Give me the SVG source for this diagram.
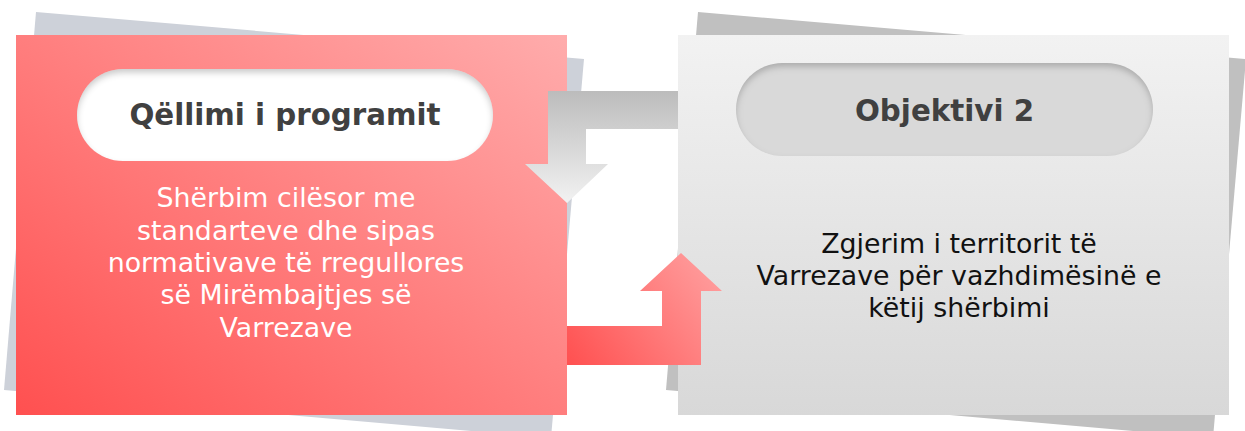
<svg xmlns="http://www.w3.org/2000/svg" width="1245" height="431" viewBox="0 0 1245 431">
<style>
.title{font-family:"DejaVu Sans","Liberation Sans",sans-serif;font-weight:bold;font-size:29.3px;fill:#404040;text-anchor:middle}
.body{font-family:"DejaVu Sans","Liberation Sans",sans-serif;font-size:26.8px;text-anchor:middle}
.white{fill:#ffffff}
.dark{fill:#111111}
</style>
<defs>
<linearGradient id="redBox" x1="0" y1="1" x2="1" y2="0">
<stop offset="0" stop-color="#ff5050"/>
<stop offset="1" stop-color="#ffacac"/>
</linearGradient>
<linearGradient id="grayBox" x1="0" y1="0" x2="0" y2="1">
<stop offset="0" stop-color="#f2f2f2"/>
<stop offset="1" stop-color="#d8d8d8"/>
</linearGradient>
<linearGradient id="grayArrow" gradientUnits="userSpaceOnUse" x1="0" y1="91" x2="0" y2="203">
<stop offset="0" stop-color="#bcbcbc"/>
<stop offset="1" stop-color="#f2f2f2"/>
</linearGradient>
<linearGradient id="redArrow" gradientUnits="userSpaceOnUse" x1="567" y1="365" x2="722" y2="253">
<stop offset="0" stop-color="#ff5050"/>
<stop offset="1" stop-color="#ffa3a3"/>
</linearGradient>
<filter id="inset" x="-10%" y="-20%" width="120%" height="140%">
<feFlood flood-color="#000000" flood-opacity="0.4" result="f"/>
<feComposite in="f" in2="SourceAlpha" operator="out" result="o"/>
<feGaussianBlur in="o" stdDeviation="3" result="b"/>
<feOffset in="b" dy="4" result="s"/>
<feComposite in="s" in2="SourceAlpha" operator="in" result="is"/>
<feMerge><feMergeNode in="SourceGraphic"/><feMergeNode in="is"/></feMerge>
</filter>
</defs>

<g id="node-goal">
<polygon points="36,12 584,59 551,438 4,390" fill="#cdd1d9"/>
<rect x="16" y="35" width="551" height="380" fill="url(#redBox)"/>
<rect x="77" y="69" width="416" height="92" rx="46" ry="46" fill="#ffffff" filter="url(#inset)"/>
<text class="title" x="285" y="125">Qëllimi i programit</text>
<text class="body white" x="286" y="207">Shërbim cilësor me</text>
<text class="body white" x="286" y="240">standarteve dhe sipas</text>
<text class="body white" x="286" y="272">normativave të rregullores</text>
<text class="body white" x="286" y="304">së Mirëmbajtjes së</text>
<text class="body white" x="286" y="337">Varrezave</text>
</g>

<g id="node-objective2">
<polygon points="698,12 1246,59 1213,438 666,390" fill="#c0c0c0"/>
<rect x="678" y="35" width="551" height="380" fill="url(#grayBox)"/>
<rect x="736" y="63" width="417" height="93" rx="46.5" ry="46.5" fill="#d9d9d9" filter="url(#inset)"/>
<text class="title" x="944.5" y="121">Objektivi 2</text>
<text class="body dark" x="959" y="253">Zgjerim i territorit të</text>
<text class="body dark" x="959" y="285">Varrezave për vazhdimësinë e</text>
<text class="body dark" x="959" y="317">këtij shërbimi</text>
</g>

<g id="connectors">
<polygon points="678,91 548,91 548,164 525,164 567,203 608,164 586,164 586,129 678,129" fill="url(#grayArrow)"/>
<polygon points="567,326 662,326 662,291 640,291 681,253 722,291 701,291 701,365 567,365" fill="url(#redArrow)"/>
</g>
</svg>
